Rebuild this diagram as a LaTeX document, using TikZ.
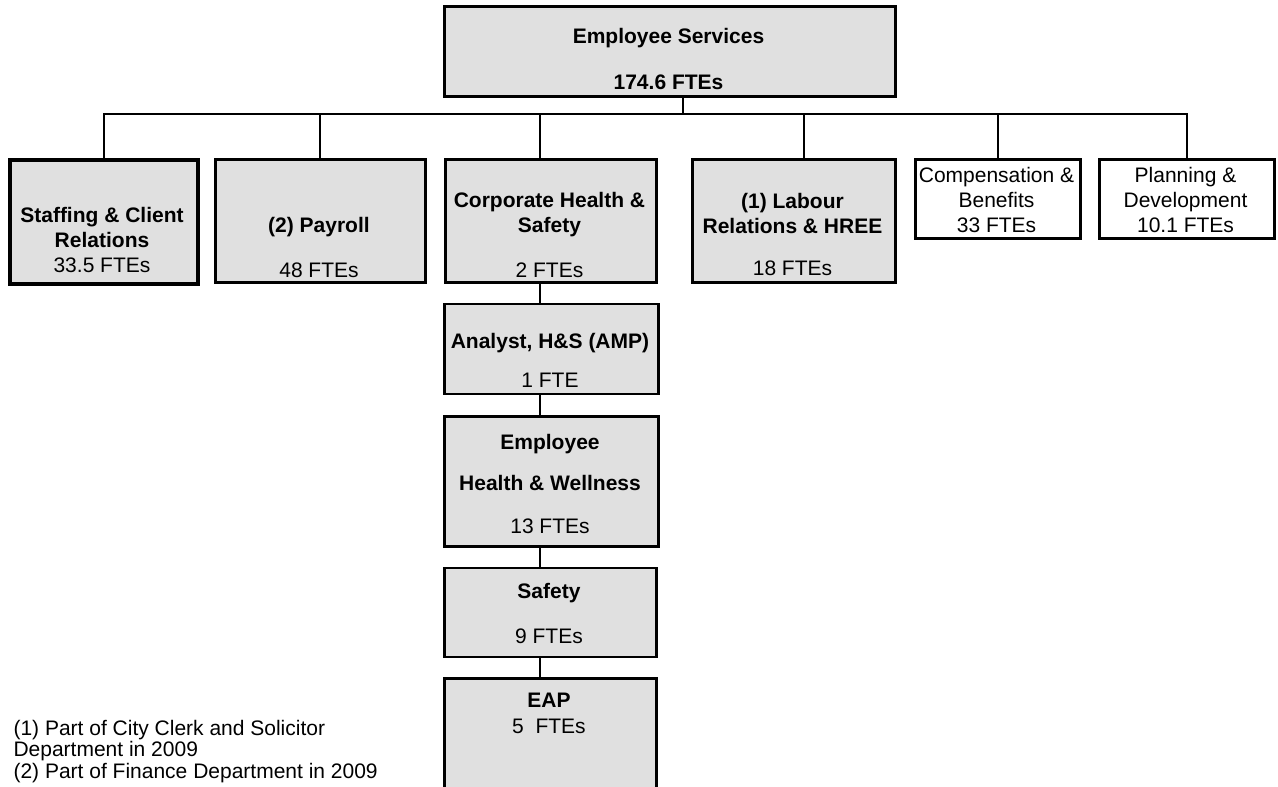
\documentclass[tikz,border=0pt]{standalone}
\usepackage{fontspec}
\setmainfont{Liberation Sans}
\usetikzlibrary{positioning}
\definecolor{unitgray}{RGB}{224,224,224}
\tikzstyle{every node}=[font=\fontsize{21}{25}\selectfont]
\tikzstyle{unit} = [rectangle, draw, fill=unitgray, line width=2.5pt, inner sep=0pt]
\tikzstyle{plainunit} = [unit, fill=white]
\tikzstyle{title} = [align=center, anchor=base, font=\fontsize{21}{25}\selectfont\bfseries]
\tikzstyle{fte} = [align=center, anchor=base]
\tikzstyle{line} = [draw, line width=2pt]

\begin{document}
\begin{tikzpicture}[x=1pt, y=-1pt]
    \useasboundingbox (0,0) rectangle (1278,787);
    % Place nodes
    \node [unit, anchor=north west, minimum width=451pt, minimum height=90pt] (es) at (443,5) {};
    \node [unit, anchor=north west, line width=3.5pt, minimum width=188pt, minimum height=124pt] (staff) at (8,158) {};
    \node [unit, anchor=north west, minimum width=210pt, minimum height=123pt] (payroll) at (214,158) {};
    \node [unit, anchor=north west, minimum width=211pt, minimum height=123pt] (corp) at (444,158) {};
    \node [unit, anchor=north west, minimum width=203pt, minimum height=123pt] (labour) at (691,158) {};
    \node [plainunit, anchor=north west, minimum width=165pt, minimum height=79pt] (comp) at (914,158) {};
    \node [plainunit, anchor=north west, minimum width=175pt, minimum height=79pt] (plan) at (1098,158) {};
    \node [unit, minimum width=214pt, minimum height=90pt, below=19pt of corp.south, xshift=0.5pt] (analyst) {};
    \node [unit, minimum width=214pt, minimum height=130pt, below=20pt of analyst] (hw) {};
    \node [unit, minimum width=212pt, minimum height=89pt, below=19pt of hw, xshift=-1pt] (safety) {};
    \node [unit, minimum width=212pt, minimum height=133pt, below=19pt of safety] (eap) {};
    % Texts (base = last line)
    \node [title] (esname) at (668.5,43) {Employee Services};
    \node [title] (esfte) at (668.5,89) {174.6 FTEs};
    \node [title] (staffname) at (102,272) {Staffing \& Client\\Relations\\\mdseries 33.5 FTEs};
    \node [title] (payrollname) at (319,232) {(2) Payroll};
    \node [fte] (payrollfte) at (319,277) {48 FTEs};
    \node [title] (corpname) at (549.5,232) {Corporate Health \&\\Safety};
    \node [fte] (corpfte) at (549.5,277) {2 FTEs};
    \node [title] (labourname) at (792.5,233) {(1) Labour\\Relations \& HREE};
    \node [fte] (labourfte) at (792.5,275) {18 FTEs};
    \node [fte] (compname) at (996.5,232) {Compensation \&\\Benefits\\33 FTEs};
    \node [fte] (planname) at (1185.5,232) {Planning \&\\Development\\10.1 FTEs};
    \node [title] (analystname) at (550,348) {Analyst, H\&S (AMP)};
    \node [fte] (analystfte) at (550,387) {1 FTE};
    \node [title] (hwname) at (550,490) {Employee\\[16pt]Health \& Wellness};
    \node [fte] (hwfte) at (550,533) {13 FTEs};
    \node [title] (safetyname) at (549,598) {Safety};
    \node [fte] (safetyfte) at (549,643) {9 FTEs};
    \node [title] (eapname) at (549,707) {EAP};
    \node [fte] (eapfte) at (549,733) {5\ \ FTEs};
    \node [anchor=base west, align=left, font=\fontsize{21}{21.5}\selectfont] (notes) at (10,778)
        {(1) Part of City Clerk and Solicitor\\Department in 2009\\(2) Part of Finance Department in 2009};
    % Draw edges
    \coordinate (bus) at (0,114);
    \coordinate (esdrop) at (683,0);
    \coordinate (spine) at (540,0);
    \coordinate (lrdrop) at (804,0);
    \path [line] (staff.north) |- (plan.north |- bus) -- (plan.north);
    \path [line] (es.south -| esdrop) -- (bus -| esdrop);
    \path [line] (payroll.north) -- (payroll.north |- bus);
    \path [line] (corp.north -| spine) -- (bus -| spine);
    \path [line] (labour.north -| lrdrop) -- (bus -| lrdrop);
    \path [line] (comp.north) -- (comp.north |- bus);
    \path [line] (corp.south -| spine) -- (analyst.north -| spine);
    \path [line] (analyst.south -| spine) -- (hw.north -| spine);
    \path [line] (hw.south -| spine) -- (safety.north -| spine);
    \path [line] (safety.south -| spine) -- (eap.north -| spine);
\end{tikzpicture}
\end{document}
